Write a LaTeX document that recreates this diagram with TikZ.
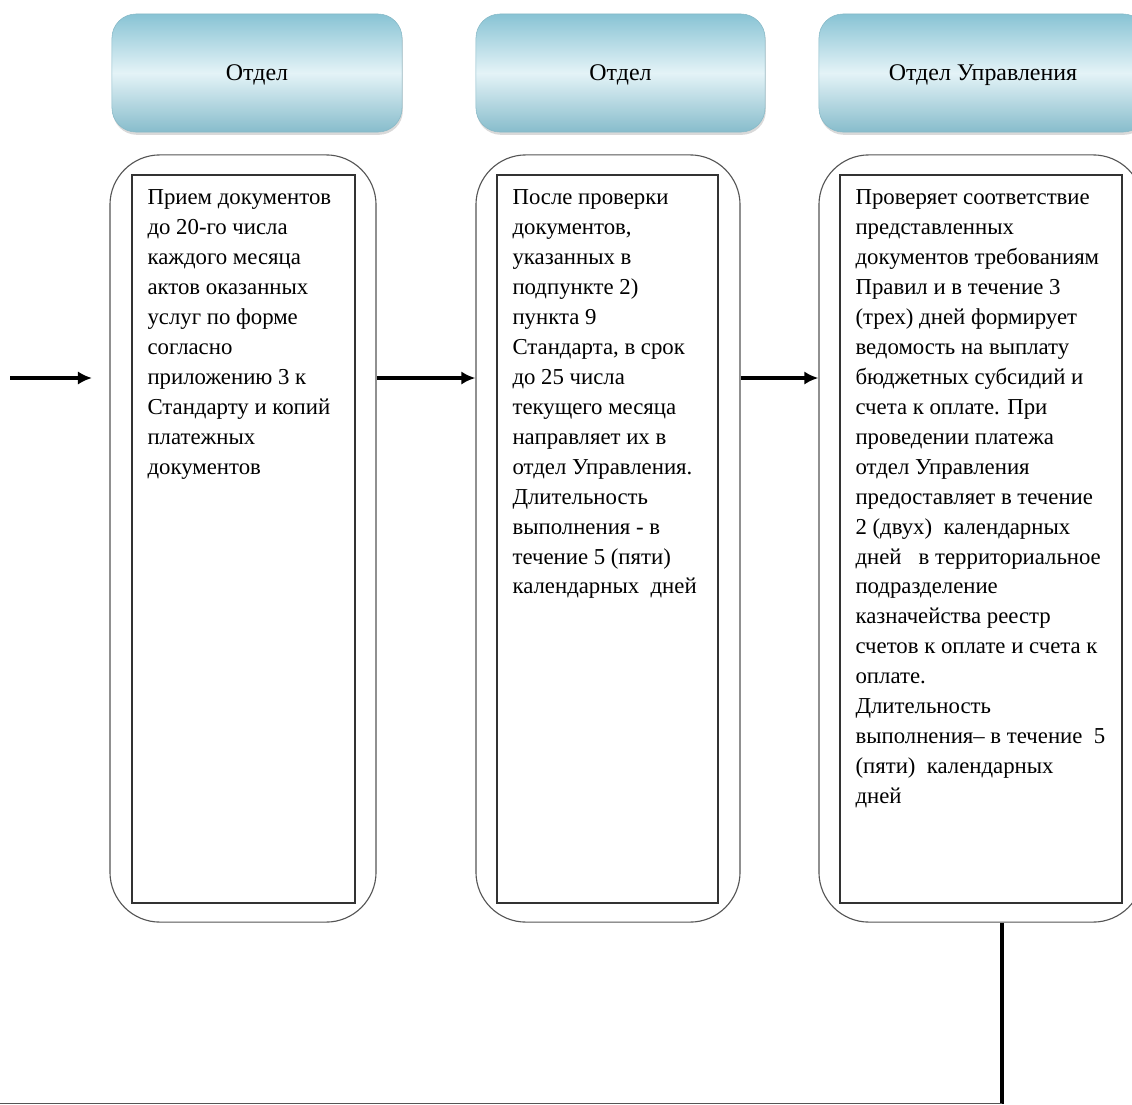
\documentclass[tikz,border=0pt]{standalone}
\usepackage{fontspec}
\setmainfont{Liberation Serif}
\usetikzlibrary{positioning,shadows,arrows.meta}

\definecolor{hdrdark}{HTML}{88C3D4}
\definecolor{hdrlight}{HTML}{E4F3F7}
\definecolor{boxgray}{HTML}{555555}

\begin{document}
\begin{tikzpicture}[x=0.025cm,y=-0.025cm,
  header/.style={rounded corners=0.6cm,draw=hdrdark!85!gray,top color=hdrdark,
    bottom color=hdrdark!90!gray,middle color=hdrlight,
    drop shadow={opacity=0.3,shadow xshift=0.02cm,shadow yshift=-0.07cm},
    minimum height=2.95cm,text depth=0pt,font=\fontsize{17}{20}\selectfont},
  outer/.style={draw=boxgray,rounded corners=1.25cm,line width=0.8pt},
  inner/.style={draw=black!80,line width=1pt},
  txt/.style={align=left,inner sep=0pt,font=\fontsize{16.2}{21.3}\selectfont},
  flow/.style={line width=2.8pt,-{Latex[length=0.35cm,width=0.33cm]}}]

  \useasboundingbox (0,0) rectangle (1132,1105);
  \clip (0,0) rectangle (1132,1105);

  \draw (257,73) node[header,minimum width=7.25cm] (h1) {Отдел};
  \draw (620.5,73) node[header,minimum width=7.225cm] (h2) {Отдел};
  \draw (983,73) node[header,minimum width=8.2cm] (h3) {Отдел Управления};

  \draw (243,538.5) node[outer,minimum width=6.65cm,minimum height=19.175cm] (o1) {};
  \draw (608,538.5) node[outer,minimum width=6.6cm,minimum height=19.175cm] (o2) {};
  \draw (981,538.5) node[outer,minimum width=8.1cm,minimum height=19.175cm] (o3) {};

  \draw (243.5,539) node[inner,minimum width=5.575cm,minimum height=18.2cm] (i1) {};
  \draw (607.5,539) node[inner,minimum width=5.525cm,minimum height=18.2cm] (i2) {};
  \draw (981,539) node[inner,minimum width=7.05cm,minimum height=18.2cm] (i3) {};

  \node[txt,below right=0.38cm and 0.4cm of i1.north west] (t1)
    {Прием документов\\до 20-го числа\\каждого месяца\\актов оказанных\\услуг по форме\\согласно\\приложению 3 к\\Стандарту и копий\\платежных\\документов};
  \node[txt,below right=0.38cm and 0.4cm of i2.north west] (t2)
    {После проверки\\документов,\\указанных в\\подпункте 2)\\пункта 9\\Стандарта, в срок\\до 25 числа\\текущего месяца\\направляет их в\\отдел Управления.\\Длительность\\выполнения - в\\течение 5 (пяти)\\календарных~~дней};
  \node[txt,below right=0.38cm and 0.4cm of i3.north west] (t3)
    {Проверяет соответствие\\представленных\\документов требованиям\\Правил и в течение 3\\(трех) дней формирует\\ведомость на выплату\\бюджетных субсидий и\\счета к оплате. При\\проведении платежа\\отдел Управления\\предоставляет в течение\\2 (двух)~~календарных\\дней~~~в территориальное\\подразделение\\казначейства реестр\\счетов к оплате и счета к\\оплате.\\Длительность\\выполнения-- в течение~~5\\(пяти)~~календарных\\дней};

  \coordinate (s) at (10,378);
  \coordinate (e) at (92,378);
  \draw[flow] (s) -- (e);
  \draw[flow] (o1.east |- e) -- (o2.west |- e);
  \draw[flow] (o2.east |- e) -- (o3.west |- e);

  \coordinate (c) at (1002,1103.5);
  \coordinate (c0) at (0,1103.5);
  \draw[line width=2.6pt] (o3.south -| c) -- (c);
  \draw[draw=boxgray,line width=0.8pt] (c) -- (c0);

\end{tikzpicture}
\end{document}
